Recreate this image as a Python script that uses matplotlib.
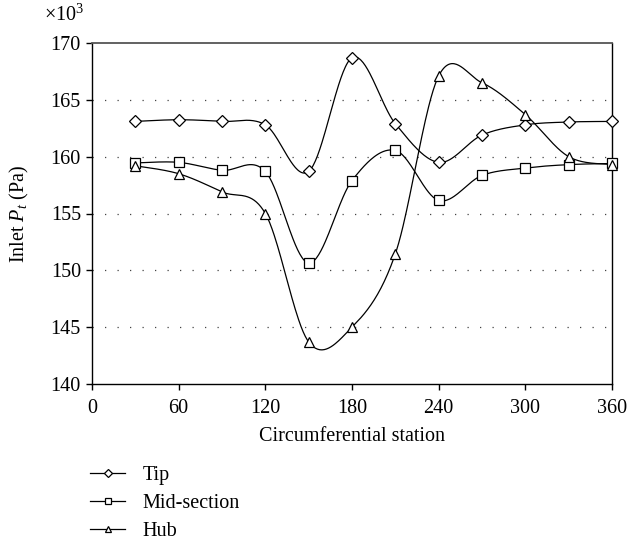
import matplotlib.pyplot as plt
import numpy as np
from matplotlib.lines import Line2D

plt.rcParams['font.family'] = ['Liberation Serif', 'DejaVu Serif']
plt.rcParams['mathtext.fontset'] = 'custom'
plt.rcParams['mathtext.rm'] = 'Liberation Serif'
plt.rcParams['mathtext.it'] = 'Liberation Serif:italic'

# --- data (Pa x 10^3) ---
stations = [30, 60, 90, 120, 150, 180, 210, 240, 270, 300, 330, 360]
tip = [163.1, 163.25, 163.1, 162.8, 158.7, 168.7, 162.9, 159.5, 161.9, 162.8, 163.05, 163.1]
mid = [159.45, 159.5, 158.8, 158.7, 150.65, 157.9, 160.55, 156.15, 158.35, 159.0, 159.3, 159.4]
hub = [159.2, 158.5, 156.9, 155.0, 143.7, 145.0, 151.45, 167.1, 166.5, 163.7, 160.0, 159.3]

series = [("Tip", tip, 'D', 6.0), ("Mid-section", mid, 's', 6.5), ("Hub", hub, '^', 7.0)]
FS = 14.5


def smooth_curve(xs, ys, n=40):
    """Excel-like smoothed line: cubic Bezier segments with Catmull-Rom control points."""
    p = np.column_stack([xs, ys]).astype(float)
    p = np.vstack([p[0], p, p[-1]])
    out = []
    for i in range(1, len(p) - 2):
        p0, p1, p2, p3 = p[i - 1], p[i], p[i + 1], p[i + 2]
        c1 = p1 + (p2 - p0) / 6.0
        c2 = p2 - (p3 - p1) / 6.0
        t = np.linspace(0, 1, n)[:, None]
        seg = ((1 - t) ** 3) * p1 + 3 * ((1 - t) ** 2) * t * c1 + 3 * (1 - t) * t ** 2 * c2 + t ** 3 * p2
        out.append(seg if i == 1 else seg[1:])
    seg = np.vstack(out)
    return seg[:, 0], seg[:, 1]


fig = plt.figure(figsize=(6.28, 5.44), dpi=100)
ax = fig.add_axes([92 / 628, 1 - 384 / 544, 520 / 628, 341 / 544])

for name, vals, mk, ms in series:
    sx, sy = smooth_curve(stations, vals)
    ax.plot(sx, sy, color='black', lw=0.9, zorder=2, clip_on=False)
    ax.plot(stations, vals, ls='none', marker=mk, ms=ms, mfc='white', mec='black', mew=0.9,
            zorder=3, clip_on=False)

ax.set_xlim(0, 360)
ax.set_ylim(140, 170)
ax.set_xticks(range(0, 361, 60))
ax.set_yticks(range(140, 171, 5))
for yv in range(145, 170, 5):
    ax.axhline(yv, color='#444444', lw=0.9, ls=(0, (1, 9)), zorder=1)

for s in ax.spines.values():
    s.set_linewidth(1.0)
ax.spines['top'].set_color('#555555')
ax.spines['top'].set_linewidth(1.3)
ax.tick_params(direction='out', length=4, width=1, labelsize=FS)
ax.tick_params(axis='x', pad=7)
ax.tick_params(axis='y', pad=4)

ax.set_xlabel("Circumferential station", fontsize=FS, labelpad=6)
ax.set_ylabel("Inlet $P_t$ (Pa)", fontsize=FS, labelpad=14)
fig.text(44 / 628, 1 - 15 / 544, r"$\times$10$^3$", fontsize=FS, va='center', ha='left')

handles = [Line2D([], [], color='black', lw=0.9, marker=mk, ms=ms * 0.7, mfc='white', mec='black', mew=0.9)
           for _, _, mk, ms in series]
fig.legend(handles, [s[0] for s in series], loc='upper left', bbox_to_anchor=(90 / 628, 1 - 466 / 544),
           frameon=False, fontsize=FS, handlelength=1.75, handletextpad=0.85, labelspacing=0.45,
           borderaxespad=0, borderpad=0)

fig.savefig("out.png", dpi=100)
